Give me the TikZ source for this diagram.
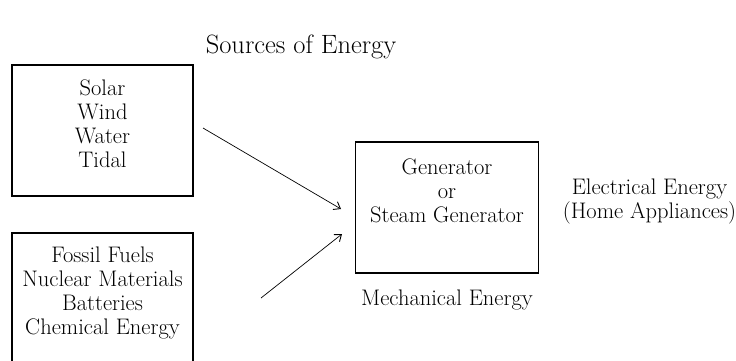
\documentclass[tikz,border=0pt]{standalone}
\usetikzlibrary{arrows.meta}
\begin{document}
\begin{tikzpicture}[x=1pt,y=-1pt,
  txt/.style={font=\fontsize{22.5}{24}\selectfont, align=center, inner sep=0pt},
  boxline/.style={draw, line width=1.8pt},
  conn/.style={line width=0.7pt, -{Straight Barb[length=6pt,width=9pt,line width=0.9pt]}}]
\useasboundingbox (0,0) rectangle (736,360);
\node[txt, font=\fontsize{26.5}{28}\selectfont] (title) at (301,47) {Sources of Energy};
\node[boxline, minimum width=181pt, minimum height=131pt, inner sep=0pt] (box1) at (102.5,130.5) {};
\node[txt] (t1) at (102.5,124) {Solar\\Wind\\Water\\Tidal};
\draw[line width=1.8pt] (12,380) -- (12,233) -- (193,233) -- (193,380);
\node[txt] (t2) at (102.5,293) {Fossil Fuels\\Nuclear Materials\\Batteries\\Chemical Energy};
\node[boxline, minimum width=183pt, minimum height=131pt, inner sep=0pt] (box3) at (447,207.5) {};
\node[txt] (t3) at (447,191) {Generator\\or\\Steam Generator};
\node[txt] (elec) at (649.5,201) {Electrical Energy\\(Home Appliances)};
\node[txt] (mech) at (447,300) {Mechanical Energy};
\coordinate (a1s) at (203,128);
\coordinate (a1e) at (341,209);
\coordinate (a2s) at (261,298);
\coordinate (a2e) at (342,234);
\draw[conn] (a1s) -- (a1e);
\draw[conn] (a2s) -- (a2e);
\end{tikzpicture}
\end{document}
